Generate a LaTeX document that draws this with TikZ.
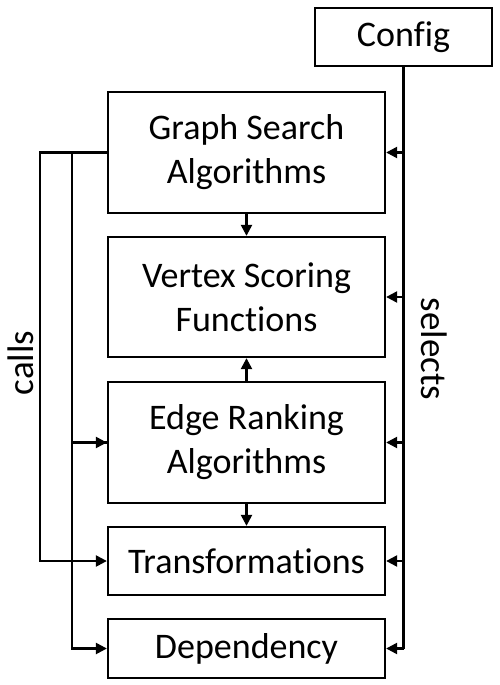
\documentclass[tikz,border=0pt]{standalone}
\usepackage{fontspec}
\setmainfont[Ligatures={NoCommon}]{Carlito}
\usetikzlibrary{arrows.meta}
\begin{document}
\begin{tikzpicture}[x=1pt,y=-1pt,
  box/.style={draw,line width=2.3pt,inner sep=0pt,align=center,font=\fontsize{36}{44}\selectfont},
  arr/.style={line width=2.3pt,-{Triangle[length=11pt,width=11pt]}},
  ln/.style={line width=2.3pt},
  lbl/.style={font=\fontsize{37}{44}\selectfont,inner sep=0pt}]
\useasboundingbox (0,0) rectangle (499,685);
\node[box,minimum width=177pt,minimum height=58pt] (c) at (403.5,37) {Config};
\node[box,minimum width=277pt,minimum height=121pt] (g) at (246.5,152.5) {Graph Search\\Algorithms};
\node[box,minimum width=277pt,minimum height=120pt] (v) at (246.5,297) {Vertex Scoring\\Functions};
\node[box,minimum width=277pt,minimum height=121pt] (e) at (246.5,442.5) {Edge Ranking\\Algorithms};
\node[box,minimum width=277pt,minimum height=68pt] (t) at (246.5,561) {Transformations};
\node[box,minimum width=277pt,minimum height=59pt] (d) at (246.5,648.5) {Dependency};
% vertical arrows
\draw[arr] (g) -- (v);
\draw[arr] (e) -- (v);
\draw[arr] (e) -- (t);
% selects
\coordinate (sx) at (404,0);
\draw[ln] (c.south) -- (c.south |- d.east);
\foreach \n in {g,v,e,t,d} \draw[arr] (\n.east -| sx) -- (\n.east);
% calls
\coordinate (la) at (40,0);
\coordinate (lb) at (72,0);
\draw[arr] (g.west) -- (g.west -| la) |- (t.west);
\draw[arr] (g.west -| lb) |- (e.west);
\draw[arr] (e.west) -- (e.west -| lb) |- (d.west);
\node[lbl,rotate=90] (calls) at (21,363) {calls};
\node[lbl,rotate=-90] (sel) at (434,349) {selects};
\end{tikzpicture}
\end{document}
